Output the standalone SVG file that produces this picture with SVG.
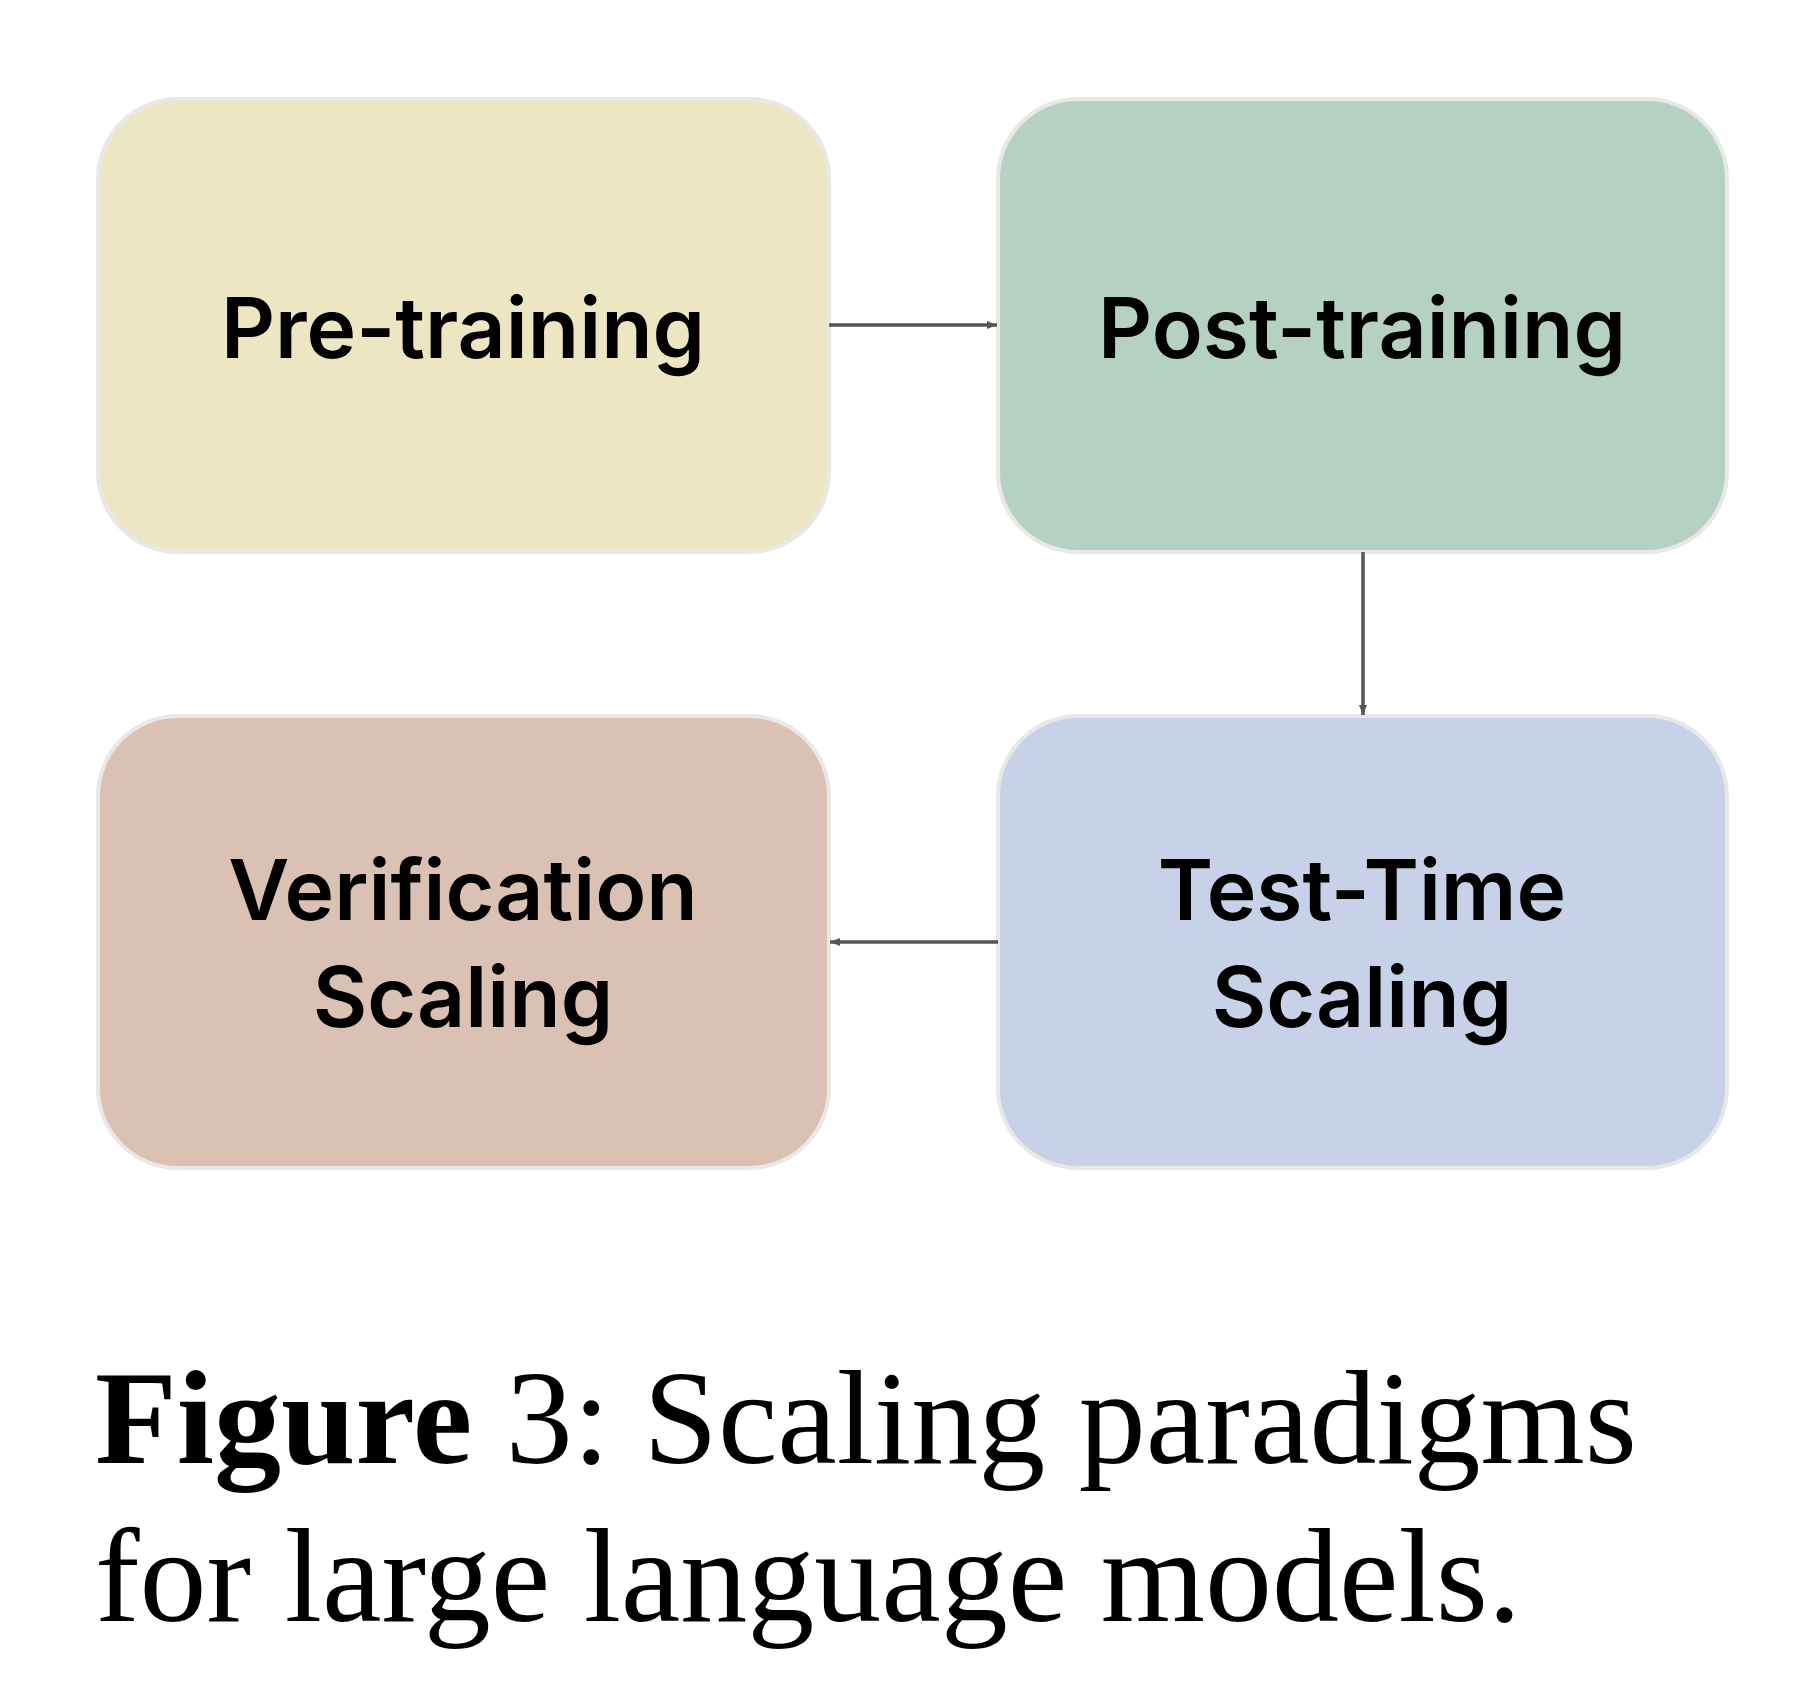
<svg xmlns="http://www.w3.org/2000/svg" width="1800" height="1705" viewBox="0 0 1800 1705">
<style>
.box{stroke:#e8e8e8;stroke-width:4}
.lbl{font-family:Inter,"Open Sans",sans-serif;font-weight:600;font-size:84px;fill:#000;text-anchor:middle}
.cap{font-family:"Liberation Serif",serif;font-size:134px;fill:#000}
.con{stroke:#555;stroke-width:3.5;fill:none;marker-end:url(#ah)}
</style>
<defs><marker id="ah" markerWidth="10" markerHeight="8" refX="10" refY="4" orient="auto" markerUnits="userSpaceOnUse" viewBox="0 0 10 8"><path d="M0,0L10,4L0,8z" fill="#555"/></marker>
</defs>
<rect width="1800" height="1705" fill="#fff"/>
<g id="pre"><rect class="box" x="98" y="99" width="731" height="453" rx="80" fill="#ece7c2"/><text class="lbl" x="463" y="358">Pre-training</text></g>
<g id="post"><rect class="box" x="998" y="99" width="729" height="453" rx="80" fill="#b5d1c1"/><text class="lbl" x="1362" y="358">Post-training</text></g>
<g id="ver"><rect class="box" x="98" y="716" width="731" height="452" rx="80" fill="#dbc1b3"/><text class="lbl" x="463" y="920">Verification</text><text class="lbl" x="463" y="1027">Scaling</text></g>
<g id="tts"><rect class="box" x="998" y="716" width="729" height="452" rx="80" fill="#c7d2e8"/><text class="lbl" x="1362" y="920">Test-Time</text><text class="lbl" x="1362" y="1027">Scaling</text></g>
<g id="connectors">
<line class="con" x1="829" y1="325" x2="997" y2="325"/>
<line class="con" x1="1363" y1="552" x2="1363" y2="715"/>
<line class="con" x1="998" y1="942" x2="830" y2="942"/>
</g>
<text class="cap" x="95" y="1463"><tspan font-weight="bold">Figure</tspan> 3: Scaling paradigms</text>
<text class="cap" x="95" y="1621">for large language models.</text>
</svg>
